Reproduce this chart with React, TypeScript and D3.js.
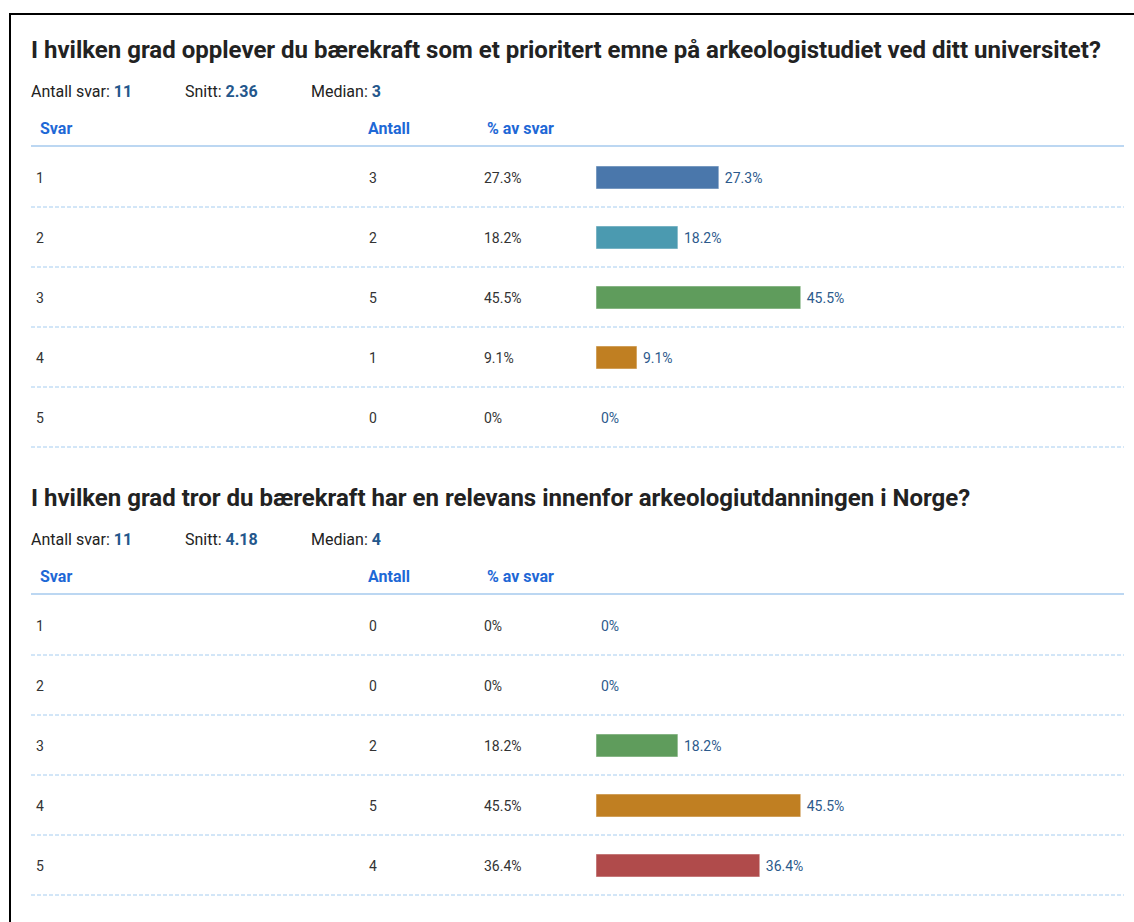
import React from "react";
import * as d3 from "d3";

// answer categories and the two questions
const answers = ["1", "2", "3", "4", "5"];
const answerColors = ["#4a77ab", "#4b9ab0", "#5f9c5c", "#c07f22", "#b04b4b"];

const q1Title = "I hvilken grad opplever du bærekraft som et prioritert emne på arkeologistudiet ved ditt universitet?";
const q1Counts = [3, 2, 5, 1, 0];
const q1Pct = [27.3, 18.2, 45.5, 9.1, 0];
const q1Stats = ["11", "2.36", "3"];

const q2Title = "I hvilken grad tror du bærekraft har en relevans innenfor arkeologiutdanningen i Norge?";
const q2Counts = [0, 0, 2, 5, 4];
const q2Pct = [0, 0, 18.2, 45.5, 36.4];
const q2Stats = ["11", "4.18", "4"];

const statLabels = ["Antall svar: ", "Snitt: ", "Median: "];
const headers = ["Svar", "Antall", "% av svar"];

const W = 1134;
const H = 922;
const FONT = "Roboto, 'Noto Sans', sans-serif";

const x = d3.scaleLinear().domain([0, 100]).range([0, 450]);
const rowY = d3.scaleLinear().domain([0, 1]).range([0, 60]);

const fmtPct = (v: number) => (v === 0 ? "0%" : d3.format(".1f")(v) + "%");

function Question({ top, title, counts, pct, stats }: { top: number; title: string; counts: number[]; pct: number[]; stats: string[] }) {
  const statX = [31, 185, 311];
  const headX = [40, 368, 487];
  const firstRow = top + 128;
  return (
    <g>
      <text x={31} y={top} dy="0.35em" fontSize={24} fontWeight={700} fill="#222">{title}</text>
      {statLabels.map((l, i) => (
        <text key={l} x={statX[i]} y={top + 41} dy="0.35em" fontSize={16} fill="#222">
          {l}
          <tspan fontWeight={700} fill="#24578c">{stats[i]}</tspan>
        </text>
      ))}
      {headers.map((h, i) => (
        <text key={h} x={headX[i]} y={top + 78} dy="0.35em" fontSize={16} fontWeight={700} fill="#1e68d6">{h}</text>
      ))}
      <line x1={31} x2={1124} y1={top + 96} y2={top + 96} stroke="#bcd7f2" strokeWidth={2} />
      {answers.map((a, i) => {
        const cy = firstRow + rowY(i);
        const w = x(pct[i]);
        return (
          <g key={a}>
            <text x={36} y={cy} dy="0.35em" fontSize={14} fill="#333">{a}</text>
            <text x={369} y={cy} dy="0.35em" fontSize={14} fill="#333">{counts[i]}</text>
            <text x={484} y={cy} dy="0.35em" fontSize={14} fill="#333">{fmtPct(pct[i])}</text>
            {w > 0 && (
              <rect x={596 + x(0)} y={cy - 12} width={w} height={23} fill={answerColors[i]} stroke="#fff" strokeOpacity={0.5} strokeWidth={1} />
            )}
            <text x={596 + w + (w > 0 ? 6 : 5)} y={cy} dy="0.35em" fontSize={14} fill="#2c5a8c">{fmtPct(pct[i])}</text>
            <line x1={31} x2={1124} y1={cy + 29} y2={cy + 29} stroke="#a6cdf0" strokeWidth={1} strokeDasharray="4,2" />
          </g>
        );
      })}
    </g>
  );
}

export default function App() {
  return (
    <svg width={W} height={H} style={{ position: "absolute", left: 0, top: 0, background: "#fff" }} fontFamily={FONT}>
      <rect width={W} height={H} fill="#fff" />
      <line x1={10} x2={W} y1={14} y2={14} stroke="#000" strokeWidth={2} />
      <line x1={10} x2={10} y1={13} y2={H} stroke="#000" strokeWidth={2} />
      <Question top={50} title={q1Title} counts={q1Counts} pct={q1Pct} stats={q1Stats} />
      <Question top={498} title={q2Title} counts={q2Counts} pct={q2Pct} stats={q2Stats} />
    </svg>
  );
}
